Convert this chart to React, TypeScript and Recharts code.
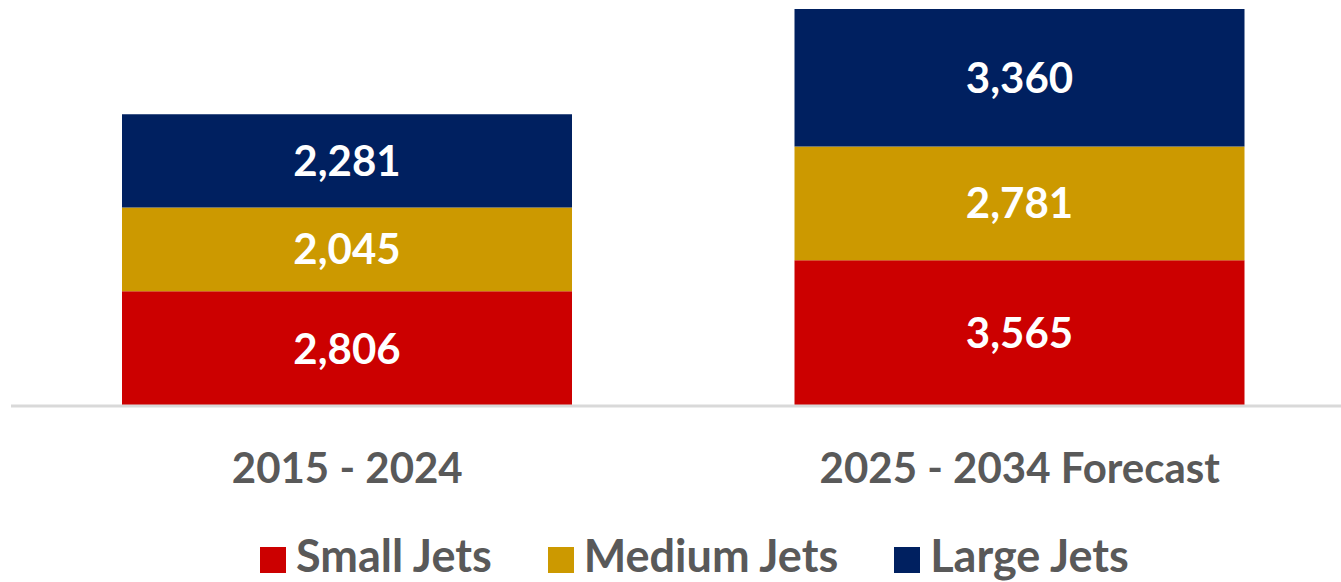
import { BarChart, Bar, XAxis, YAxis, LabelList, Legend } from 'recharts';

// categories and series values
const periods = ['2015 - 2024', '2025 - 2034 Forecast'];
const smallJets = [2806, 3565];
const mediumJets = [2045, 2781];
const largeJets = [2281, 3360];

const seriesNames = ['Small Jets', 'Medium Jets', 'Large Jets'];
const COLORS = ['#CC0000', '#CC9900', '#002060'];

const data = periods.map((period, i) => ({
  period,
  small: smallJets[i],
  medium: mediumJets[i],
  large: largeJets[i],
}));

const FONT = 'Lato, "Open Sans", sans-serif';
const TEXT_GREY = '#595959';

const fmt = (v: any) => Number(v).toLocaleString('en-US');

// category label below the axis
const PeriodTick = (props: any) => {
  const { x, y, payload } = props;
  return (
    <text x={x} y={y + 77} textAnchor="middle" fill={TEXT_GREY} fontSize={42} fontWeight={700} fontFamily={FONT}>
      {payload.value}
    </text>
  );
};

// legend: square marker + bold grey text, in series order
const renderLegend = (props: any) => {
  const items = [...(props.payload || [])].sort(
    (a: any, b: any) => seriesNames.indexOf(a.value) - seriesNames.indexOf(b.value)
  );
  return (
    <div style={{ display: 'flex', alignItems: 'center', height: 46, paddingLeft: 260, fontFamily: FONT }}>
      {items.map((item: any, i: number) => (
        <div key={`legend-${i}`} style={{ display: 'flex', alignItems: 'center', marginRight: 56 }}>
          <span style={{ display: 'inline-block', width: 26, height: 26, background: item.color, marginRight: 10, marginTop: 9 }} />
          <span style={{ fontSize: 45, fontWeight: 700, color: TEXT_GREY, lineHeight: '40px', whiteSpace: 'nowrap' }}>{item.value}</span>
        </div>
      ))}
    </div>
  );
};

export default function App() {
  return (
    <div style={{ width: 1341, height: 582, overflow: 'hidden' }}>
      <style>{'body { margin: 0; overflow: hidden; }'}</style>
      <BarChart
        width={1341}
        height={582}
        data={data}
        margin={{ top: 9, right: 0, bottom: 4, left: 11 }}
        style={{ fontFamily: FONT }}
      >
        <XAxis
          dataKey="period"
          axisLine={{ stroke: '#d9d9d9', strokeWidth: 3 }}
          tickLine={false}
          tickSize={0}
          tickMargin={0}
          height={126}
          padding={{ left: 0, right: -15 }}
          tick={<PeriodTick />}
          interval={0}
        />
        <YAxis hide domain={[0, 9706]} type="number" />
        <Legend
          verticalAlign="bottom"
          align="left"
          wrapperStyle={{ left: 0, width: 1341, height: 46 }}
          content={renderLegend}
        />
        <Bar dataKey="small" name={seriesNames[0]} stackId="jets" fill={COLORS[0]} barSize={450} isAnimationActive={false}>
          <LabelList dataKey="small" position="center" formatter={fmt} fill="#fff" fontSize={42} fontWeight={700} fontFamily={FONT} />
        </Bar>
        <Bar dataKey="medium" name={seriesNames[1]} stackId="jets" fill={COLORS[1]} barSize={450} isAnimationActive={false}>
          <LabelList dataKey="medium" position="center" formatter={fmt} fill="#fff" fontSize={42} fontWeight={700} fontFamily={FONT} />
        </Bar>
        <Bar dataKey="large" name={seriesNames[2]} stackId="jets" fill={COLORS[2]} barSize={450} isAnimationActive={false}>
          <LabelList dataKey="large" position="center" formatter={fmt} fill="#fff" fontSize={42} fontWeight={700} fontFamily={FONT} />
        </Bar>
      </BarChart>
    </div>
  );
}
